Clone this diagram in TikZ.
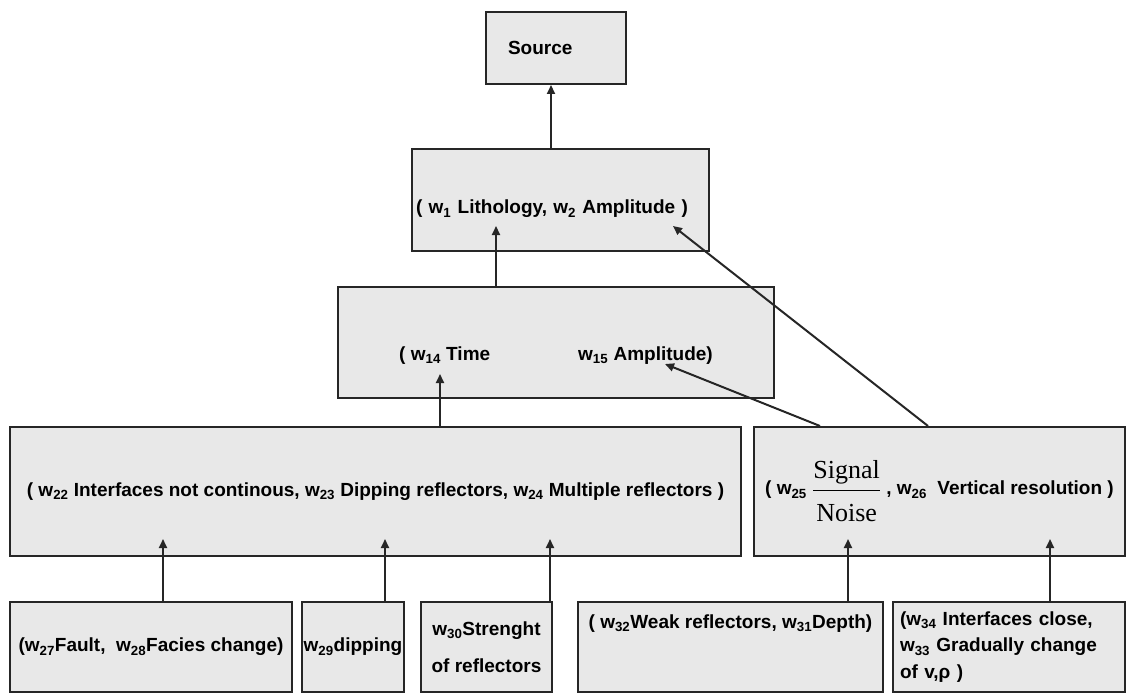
\documentclass[tikz,border=0pt]{standalone}
\usepackage{amsmath}
\usepackage{fontspec}
\setmainfont{Liberation Sans}
\newfontfamily\fracfont{Liberation Serif}
\usetikzlibrary{positioning, arrows.meta, calc}
\tikzset{
  factor/.style={draw=black!85, line width=2pt, fill=black!9, inner sep=2pt,
    font=\bfseries\fontsize{19}{23}\selectfont},
  link/.style={-{Triangle[length=9pt,width=8pt]}, line width=2pt, black!85}
}
\newcommand{\wt}[1]{w\textsubscript{#1}}
\newcommand{\sigfrac}{$\dfrac{\mbox{\fracfont\mdseries\fontsize{26}{28}\selectfont Signal\rule[-9pt]{0pt}{9pt}}}{\mbox{\fracfont\mdseries\fontsize{26}{28}\selectfont\rule{0pt}{29pt}Noise}}$}

\begin{document}
\begin{tikzpicture}[x=1pt, y=-1pt]
  \useasboundingbox (0,0) rectangle (1129,695);
  \node[factor, text width=96pt, inner xsep=22pt, align=left, minimum height=72pt] (src) at (556,48) {Source};
  \node[factor, text width=289pt, inner xsep=4pt, align=left, minimum height=102pt,
    text height=34pt, text depth=6pt] (lith) at (560.5,200)
    {( \wt{1} Lithology, \wt{2} Amplitude )};
  \node[factor, minimum width=436pt, minimum height=111pt, text height=40pt, text depth=5pt] (timeamp) at (556,342.5)
    {( \wt{14} Time\hspace{88pt}\wt{15} Amplitude)};
  \node[factor, minimum width=731pt, minimum height=129pt] (reflbig) at (375.5,491.5)
    {( \wt{22} Interfaces not continous, \wt{23} Dipping reflectors, \wt{24} Multiple reflectors )};
  \node[factor, minimum width=371pt, minimum height=129pt] (signoise) at (939.5,491.5)
    {( \wt{25} \sigfrac\ , \wt{26}\ \ Vertical resolution )};
  % bottom row
  \node[factor, minimum width=282pt, minimum height=90pt] (fault) at (151,647)
    {(\wt{27}Fault,\ \ \wt{28}Facies change)};
  \node[factor, minimum width=102pt, minimum height=90pt, inner xsep=0pt] (dip) at (353,647)
    {\wt{29}dipping};
  \node[factor, minimum width=131pt, minimum height=90pt, align=center] (strength) at (486.5,647)
    {\wt{30}Strenght\\[14pt]of reflectors};
  \node[factor, minimum width=305pt, minimum height=90pt, text height=22pt, text depth=60pt] (weak) at (730.5,647)
    {( \wt{32}Weak reflectors, \wt{31}Depth)};
  \node[factor, minimum height=90pt, text width=218pt, inner xsep=7pt, align=left,
    font=\bfseries\fontsize{19}{26.5}\selectfont] (close) at (1009,647)
    {(\wt{34} Interfaces close,\\ \wt{33} Gradually change\\ of v,ρ )};
  % links up the tree
  \draw[link] ($(lith.north)+(-9.5,0)$) -- ($(src.south)+(-5,0)$);
  \draw[link] ($(timeamp.north)+(-60,0)$) -- ($(lith.south)+(-64.5,-26)$);
  \draw[link] ($(signoise.north)+(-11.5,0)$) -- ($(lith.south)+(112.5,-26)$);
  \draw[link] ($(reflbig.north)+(64.5,0)$) -- ($(timeamp.south)+(-116,-25)$);
  \draw[link] ($(signoise.north)+(-119.5,0)$) -- ($(timeamp.south)+(109,-35)$);
  \draw[link] ($(fault.north)+(12,0)$) -- ($(reflbig.south)+(-212.5,-18)$);
  \draw[link] ($(dip.north)+(32,0)$) -- ($(reflbig.south)+(9.5,-18)$);
  \draw[link] ($(strength.north)+(63.5,0)$) -- ($(reflbig.south)+(174.5,-18)$);
  \draw[link] ($(weak.north)+(117.5,0)$) -- ($(signoise.south)+(-91.5,-18)$);
  \draw[link] ($(close.north)+(41,0)$) -- ($(signoise.south)+(110.5,-18)$);
\end{tikzpicture}
\end{document}
